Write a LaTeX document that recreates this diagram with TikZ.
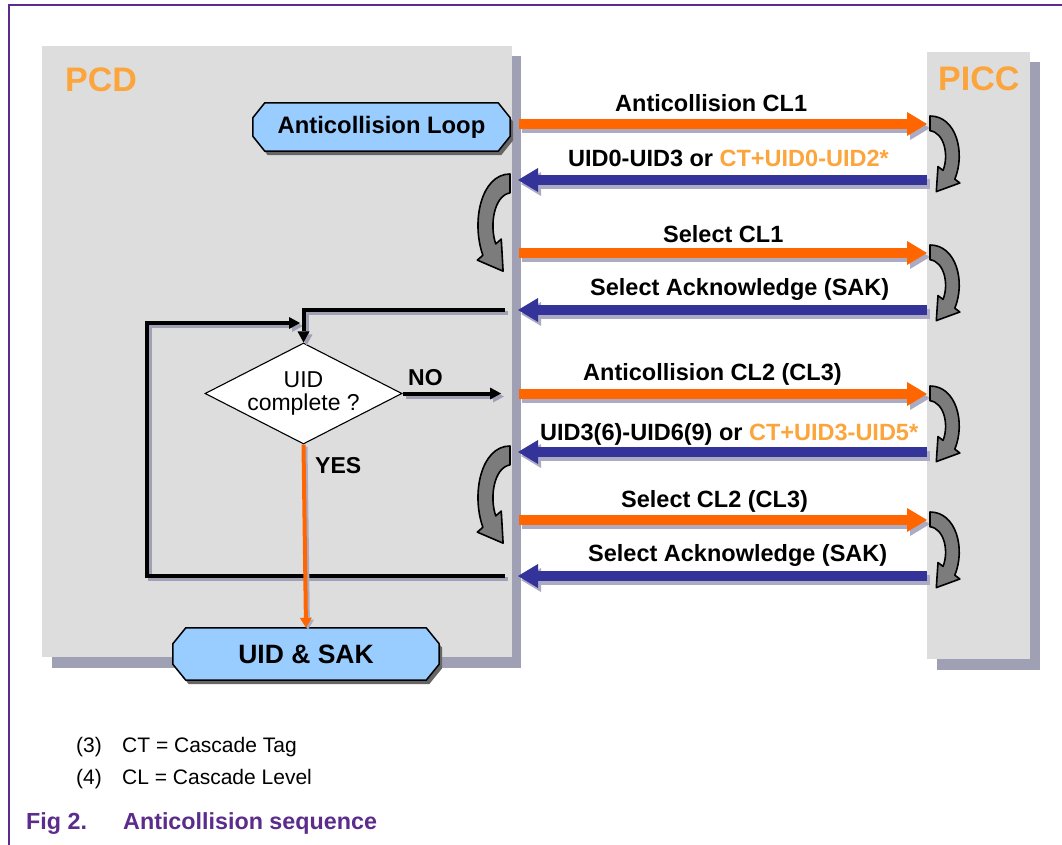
\documentclass[tikz,border=0pt]{standalone}
\usepackage{fontspec}
\setmainfont{Liberation Sans}
\usetikzlibrary{arrows.meta,shapes.geometric}
\pgfdeclarelayer{back}
\pgfdeclarelayer{mid}
\pgfsetlayers{back,mid,main}
\definecolor{orng}{HTML}{FF6600}
\definecolor{navy}{HTML}{333399}
\definecolor{lorng}{HTML}{FBA53C}
\definecolor{panelgray}{HTML}{DDDDDD}
\definecolor{pshadow}{HTML}{A0A0B4}
\definecolor{ashadow}{HTML}{ABABC4}
\definecolor{boxblue}{HTML}{99CCFF}
\definecolor{purp}{HTML}{5B2C8C}
\definecolor{curvegray}{HTML}{7C7C7C}
\tikzset{
  msgtip/.style={-{Triangle[length=20pt,width=24pt,line width=0pt]}},
  msgorange/.style={draw=orng, line width=10pt, msgtip},
  msgblue/.style={draw=navy, line width=10pt, msgtip},
  msgshadow/.style={draw=ashadow, line width=10pt, msgtip, transform canvas={shift={(3pt,-4pt)}}},
  lbl/.style={font=\fontsize{23.5}{26}\bfseries\selectfont, anchor=base west, inner sep=0pt},
  foot/.style={font=\fontsize{21}{24}\selectfont, anchor=base west, inner sep=0pt},
  capt/.style={font=\fontsize{23.3}{26}\bfseries\selectfont, anchor=base west, inner sep=0pt, text=purp},
  flowtip/.style={-{Triangle[length=11pt,width=12pt,line width=0pt]}},
  flow/.style={draw=black, line width=4pt, flowtip},
  flowshadow/.style={draw=pshadow, line width=4pt, flowtip, transform canvas={shift={(3pt,-3pt)}}},
  termbox/.style={inner sep=0pt, font=\fontsize{23.8}{26}\bfseries\selectfont},
  boxshape/.style={fill=boxblue, draw=black, line width=1.5pt, line join=round},
  boxshadow/.style={fill=black!60, transform canvas={shift={(3pt,-4pt)}}},
  curvarrow/.style={fill=curvegray, draw=black, line width=1.6pt, line join=round},
  pics/turnarrow/.style={code={
    \draw[curvarrow] (0,0) .. controls (25,0) and (34,35) .. (23.6,60.2)
      -- (28.4,63.8) -- (6,72) -- (7.6,48.2) -- (12.4,51.8)
      .. controls (18,38) and (14,16) .. (0,14) -- cycle;}}
}
\begin{document}
\begin{tikzpicture}[x=1pt,y=-1pt]
\useasboundingbox (0,0) rectangle (1062,845);
\begin{pgfonlayer}{back}
  \fill[white] (0,0) rectangle (1062,845);
  % panels
  \fill[pshadow] (52,56) rectangle (521,668);
  \fill[panelgray] (42,46) rectangle (512,657);
  \fill[pshadow] (937,62) rectangle (1040,670);
  \fill[panelgray] (927,52) rectangle (1030,659);
\end{pgfonlayer}
% frame
\draw[purp, line width=2pt] (9,845) -- (9,5) -- (1062,5);

% panel titles
\node[font=\fontsize{34}{38}\bfseries\selectfont, text=lorng, anchor=base west, inner sep=0pt] (pcdt) at (65,92) {PCD};
\node[font=\fontsize{34}{38}\bfseries\selectfont, text=lorng, anchor=base west, inner sep=0pt] (picct) at (938,91) {PICC};

% terminal nodes
\node[termbox, minimum width=257pt, minimum height=48pt] (loop) at (381.5,127) {Anticollision Loop};
\node[termbox, minimum width=266pt, minimum height=52pt, font=\fontsize{26.5}{30}\bfseries\selectfont] (uidsak) at (306,654) {UID \& SAK};
\begin{pgfonlayer}{mid}
  \fill[boxshadow] ([xshift=12pt]loop.north west) -- ([xshift=-12pt]loop.north east) -- ([yshift=-15pt]loop.north east) -- ([yshift=15pt]loop.south east) -- ([xshift=-12pt]loop.south east) -- ([xshift=12pt]loop.south west) -- ([yshift=15pt]loop.south west) -- ([yshift=-15pt]loop.north west) -- cycle;
  \draw[boxshape] ([xshift=12pt]loop.north west) -- ([xshift=-12pt]loop.north east) -- ([yshift=-15pt]loop.north east) -- ([yshift=15pt]loop.south east) -- ([xshift=-12pt]loop.south east) -- ([xshift=12pt]loop.south west) -- ([yshift=15pt]loop.south west) -- ([yshift=-15pt]loop.north west) -- cycle;
  \fill[boxshadow] ([xshift=13pt]uidsak.north west) -- ([xshift=-13pt]uidsak.north east) -- ([yshift=-16pt]uidsak.north east) -- ([yshift=16pt]uidsak.south east) -- ([xshift=-13pt]uidsak.south east) -- ([xshift=13pt]uidsak.south west) -- ([yshift=16pt]uidsak.south west) -- ([yshift=-16pt]uidsak.north west) -- cycle;
  \draw[boxshape] ([xshift=13pt]uidsak.north west) -- ([xshift=-13pt]uidsak.north east) -- ([yshift=-16pt]uidsak.north east) -- ([yshift=16pt]uidsak.south east) -- ([xshift=-13pt]uidsak.south east) -- ([xshift=13pt]uidsak.south west) -- ([yshift=16pt]uidsak.south west) -- ([yshift=-16pt]uidsak.north west) -- cycle;
\end{pgfonlayer}

% decision
\node[diamond, aspect=1.95, draw=black, fill=white, line width=1.1pt, minimum width=197pt, minimum height=101pt, inner sep=0pt, align=center, font=\fontsize{23}{22.5}\selectfont] (dec) at (303.5,393.5) {UID\\complete ?};

% lifeline end points
\coordinate (o1s) at (519,124);  \coordinate (o1e) at (927,124);
\coordinate (b1s) at (927,180);  \coordinate (b1e) at (518,180);
\coordinate (o2s) at (519,253);  \coordinate (o2e) at (927,253);
\coordinate (b2s) at (927,310);  \coordinate (b2e) at (518,310);
\coordinate (o3s) at (519,394);  \coordinate (o3e) at (927,394);
\coordinate (b3s) at (927,452);  \coordinate (b3e) at (518,452);
\coordinate (o4s) at (519,520);  \coordinate (o4e) at (927,520);
\coordinate (b4s) at (927,576);  \coordinate (b4e) at (518,576);

% message arrows
\foreach \k in {1,2,3,4}{
  \draw[msgshadow] (o\k s) -- (o\k e);
  \draw[msgorange] (o\k s) -- (o\k e);
  \draw[msgshadow] (b\k s) -- (b\k e);
  \draw[msgblue] (b\k s) -- (b\k e);
}

% message labels
\node[lbl] (l1) at (615,112) {Anticollision CL1};
\node[lbl] (l2) at (568,167) {UID0-UID3 or \textcolor{lorng}{CT+UID0-UID2*}};
\node[lbl] (l3) at (663,242) {Select CL1};
\node[lbl] (l4) at (590,295) {Select Acknowledge (SAK)};
\node[lbl] (l5) at (583,380) {Anticollision CL2 (CL3)};
\node[lbl] (l6) at (540,440) {UID3(6)-UID6(9) or \textcolor{lorng}{CT+UID3-UID5*}};
\node[lbl] (l7) at (621,507) {Select CL2 (CL3)};
\node[lbl] (l8) at (588,561) {Select Acknowledge (SAK)};

% turn arrows
\pic[xscale=1.05,yscale=1.05] at (930,116) {turnarrow};
\pic[xscale=1.05,yscale=1.05] at (930,245) {turnarrow};
\pic[xscale=1.05,yscale=1.05] at (930,386) {turnarrow};
\pic[xscale=1.05,yscale=1.05] at (930,512) {turnarrow};
\pic[xscale=-1.15,yscale=1.35] at (510,174) {turnarrow};
\pic[xscale=-1.15,yscale=1.35] at (510,446) {turnarrow};

% flow lines
\coordinate (sak1end) at (505,310);
\coordinate (sak2end) at (505,576);
\coordinate (loopx) at (147,323);
\coordinate (join) at (300,323);
\coordinate (noend) at (501,393.5);

\draw[flowshadow] (sak1end) -| (dec.north);
\draw[flowshadow] (sak2end) -| (loopx) -- (join);
\draw[flowshadow] (dec.east) -- (noend);
\draw[flow] (sak1end) -| (dec.north);
\draw[flow] (sak2end) -| (loopx) -- (join);
\draw[flow] (dec.east) -- (noend);
\draw[draw=ashadow, line width=4pt, -{Triangle[length=10pt,width=12pt,line width=0pt]}, transform canvas={shift={(2pt,-2pt)}}] (dec.south) -- (uidsak.north);
\draw[draw=orng, line width=4pt, -{Triangle[length=10pt,width=12pt,line width=0pt]}] (dec.south) -- (uidsak.north);

\node[font=\fontsize{23}{26}\bfseries\selectfont, anchor=base west, inner sep=0pt] (nolbl) at (408,385) {NO};
\node[font=\fontsize{23}{26}\bfseries\selectfont, anchor=base west, inner sep=0pt] (yeslbl) at (315,473) {YES};

% footnotes
\node[foot] (f3n) at (76,752) {(3)};
\node[foot] (f3t) at (122,752) {CT = Cascade Tag};
\node[foot] (f4n) at (76,784) {(4)};
\node[foot] (f4t) at (122,784) {CL = Cascade Level};
\node[capt] (fign) at (26,829) {Fig 2.};
\node[capt] (figt) at (123,829) {Anticollision sequence};
\end{tikzpicture}
\end{document}
